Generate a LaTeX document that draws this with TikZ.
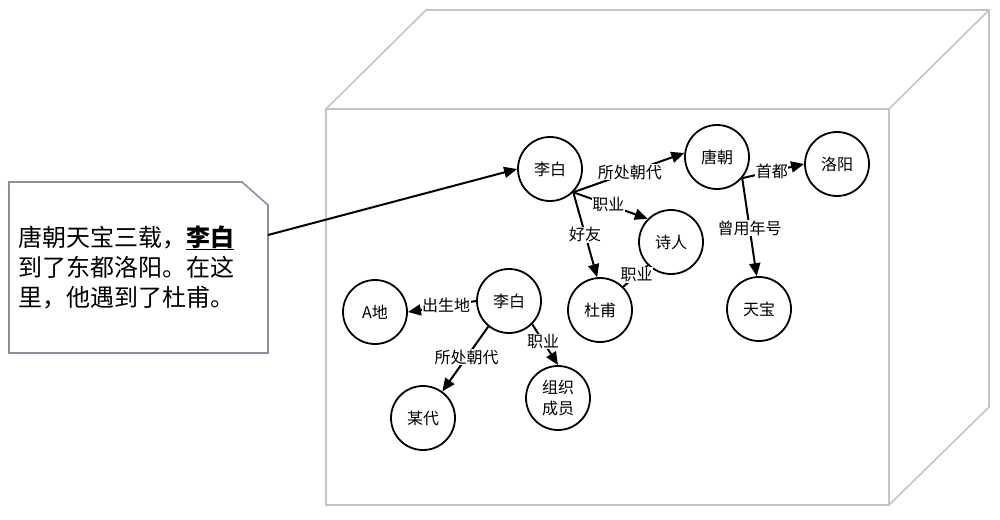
\documentclass[tikz,border=0pt]{standalone}
\usepackage{fontspec}
\setmainfont{Noto Sans CJK SC}
\usetikzlibrary{arrows.meta}
\definecolor{boxgray}{RGB}{196,196,200}
\definecolor{callgray}{RGB}{135,145,160}
\tikzset{
  ent/.style={circle,draw=black,line width=1.8pt,minimum size=64pt,inner sep=0pt,fill=white,font=\fontsize{16}{21}\selectfont,align=center},
  rel/.style={line width=2pt,-{Triangle[length=13pt,width=11pt]}},
  relplain/.style={line width=2pt},
  lbl/.style={fill=white,inner sep=0.5pt,font=\fontsize{16}{19}\selectfont},
  boxedge/.style={draw=boxgray,line width=1.6pt,line join=miter}
}
\begin{document}
\begin{tikzpicture}[x=1pt,y=-1pt]
\useasboundingbox (0,0) rectangle (1000,519);
% 3D box
\draw[boxedge,fill=white] (326,109) rectangle (889,505);
\draw[boxedge] (326,109) -- (426,10) -- (989,10) -- (889,109);
\draw[boxedge] (989,10) -- (989,407) -- (889,505);
% callout
\draw[draw=callgray,line width=1.6pt,fill=white] (9,182) -- (242,182) -- (268,205) -- (268,353) -- (9,353) -- cycle;
\node[anchor=west,align=left,inner sep=0pt,font=\fontsize{24}{30}\selectfont] (story) at (18,267)
  {唐朝天宝三载，\textbf{\underline{李白}}\\到了东都洛阳。在这\\里，他遇到了杜甫。};
\coordinate (callpt) at (268,235);
% entities
\node[ent] (lb1) at (550,169) {李白};
\node[ent] (tc) at (717,157) {唐朝};
\node[ent] (ly) at (837,164) {洛阳};
\node[ent] (sr) at (671,242) {诗人};
\node[ent] (df) at (600,310) {杜甫};
\node[ent] (tb) at (759,309) {天宝};
\node[ent] (lb2) at (509,301) {李白};
\node[ent] (ad) at (375,312) {A地};
\node[ent] (md) at (423,418) {某代};
\node[ent] (zz) at (558,398) {组织\\成员};
% connectors
\draw[rel] (callpt) -- (lb1.180);
\draw[rel] (lb1.-45) -- node[lbl,pos=0.51]{所处朝代} (tc.173);
\draw[rel] (lb1.-45) -- node[lbl,pos=0.47]{职业} (sr.135);
\draw[rel] (lb1.-45) -- node[lbl,pos=0.5]{好友} (df.95);
\draw[relplain] (sr.225) -- node[lbl,pos=0.45]{职业} (df.45);
\draw[rel] (tc.-40) -- node[lbl,pos=0.48]{首都} (ly.180);
\draw[rel] (tc.-40) -- node[lbl,pos=0.51]{曾用年号} (tb.94);
\draw[rel] (lb2.180) -- node[lbl,pos=0.44]{出生地} (ad.0);
\draw[rel] (lb2.-129) -- node[lbl,pos=0.47]{所处朝代} (md.54);
\draw[rel] (lb2.-45) -- node[lbl,pos=0.42]{职业} (zz.90);
\end{tikzpicture}
\end{document}
